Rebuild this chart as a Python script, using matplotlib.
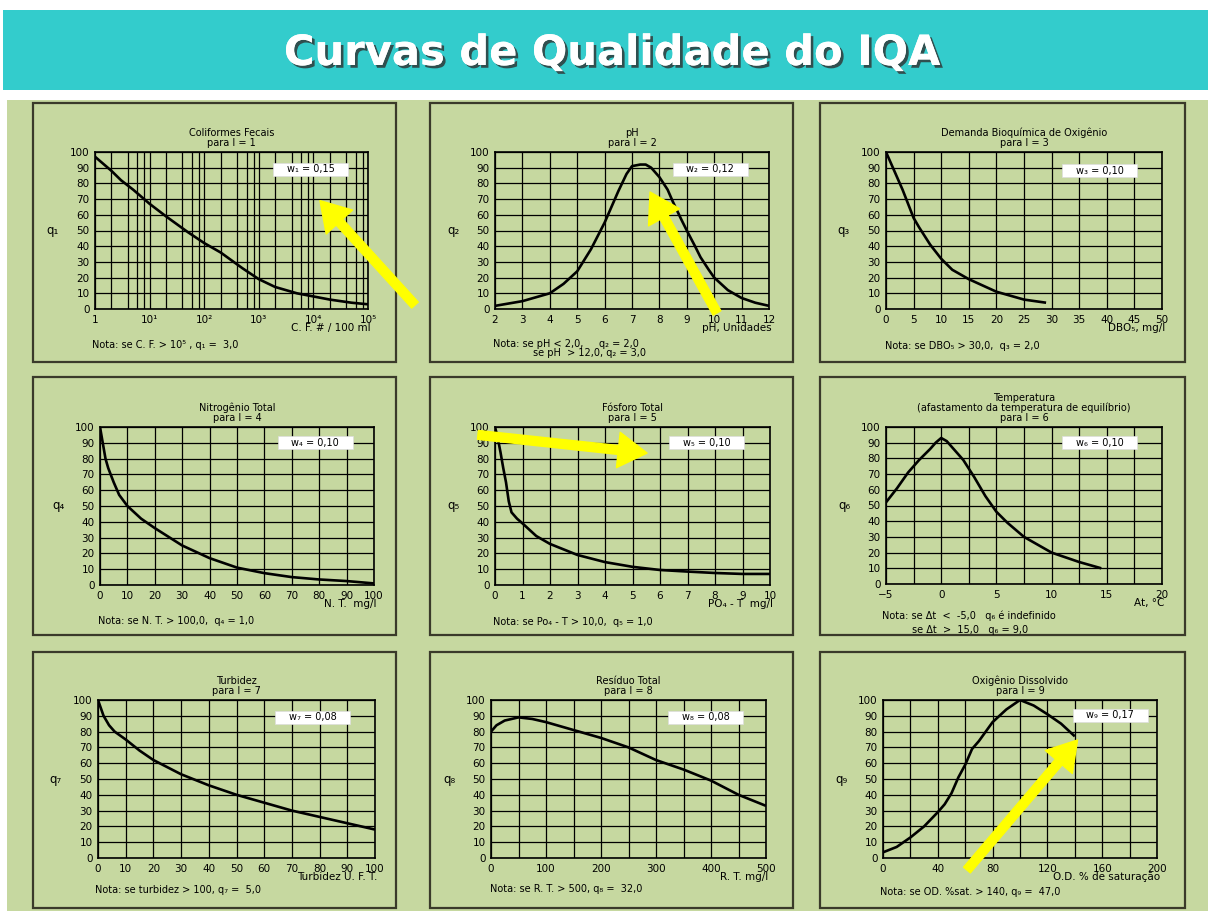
import numpy as np
import matplotlib
matplotlib.use("Agg")
import matplotlib.pyplot as plt
import matplotlib.patheffects as pe
from matplotlib.patches import Rectangle
from matplotlib.ticker import LogLocator, MultipleLocator, NullFormatter, FixedLocator

W, H = 1208, 911
TEAL = "#33CCCC"
GREEN = "#C6D8A0"
FRAME = "#3A3A2A"
YELLOW = "#FFFF00"

# ---- data ----
cf_x = [1, 2, 3, 5, 10, 20, 50, 100, 200, 500, 1e3, 2e3, 5e3, 1e4, 2e4, 5e4, 1e5]
cf_q = [97, 88, 82, 76, 67, 59, 49, 42, 36, 26, 19, 14, 10, 8, 6, 4, 3]

ph_x = [2, 3, 4, 4.5, 5, 5.5, 6, 6.5, 6.8, 7, 7.3, 7.5, 7.7, 8, 8.3, 8.5, 8.8, 9, 9.3,
        9.5, 9.8, 10, 10.5, 11, 11.5, 12]
ph_q = [2, 5, 10, 16, 24, 38, 55, 75, 86, 91, 92, 92, 90, 84, 76, 68, 57, 50, 40,
        33, 25, 20, 12, 7, 4, 2]

dbo_x = [0, 1, 2, 3, 4, 5, 6, 8, 10, 12, 15, 20, 25, 29]
dbo_q = [100, 92, 84, 76, 67, 58, 52, 41, 32, 25, 19, 11, 6, 4]

nt_x = [0, 0.5, 1, 2, 3, 5, 7, 10, 15, 20, 30, 40, 50, 60, 70, 80, 90, 100]
nt_q = [100, 95, 90, 80, 74, 65, 57, 50, 42, 36, 25, 17, 11, 7.5, 5, 3.5, 2.5, 1]

p_x = [0, 0.1, 0.2, 0.3, 0.4, 0.5, 0.6, 0.8, 1, 1.5, 2, 3, 4, 5, 6, 7, 8, 9, 10]
p_q = [100, 93, 84, 74, 65, 53, 46, 42, 39, 31, 26, 19, 14.5, 11.5, 9.5, 8.5, 7.6, 7, 7]

tmp_x = [-5, -4, -3, -2, -1, -0.5, 0, 0.5, 1, 2, 3, 4, 5, 6, 7.5, 10, 12.5, 14.5]
tmp_q = [52, 61, 71, 79, 86, 90, 93, 91, 87, 79, 68, 56, 46, 39, 30, 20, 14, 10]

tu_x = [0, 1, 2, 4, 6, 10, 15, 20, 30, 40, 50, 60, 70, 80, 90, 100]
tu_q = [100, 95, 90, 84, 80, 75, 68, 62, 53, 46, 40, 35, 30, 26, 22, 18]

rt_x = [0, 10, 25, 50, 75, 100, 150, 200, 250, 300, 350, 400, 450, 500]
rt_q = [80, 84, 87, 89, 88, 86, 81, 76, 70, 62, 56, 49, 40, 33]

od_x = [0, 10, 20, 30, 40, 45, 50, 55, 60, 65, 70, 80, 90, 100, 110, 120, 130, 140]
od_q = [3.6, 7, 13, 20, 29, 34, 41, 51, 59, 69, 74, 86, 94, 100, 96.5, 91, 85, 77]

# ---- panel texts ----
titles = [
    "Coliformes Fecais\npara I = 1",
    "pH\npara I = 2",
    "Demanda Bioquímica de Oxigênio\npara I = 3",
    "Nitrogênio Total\npara I = 4",
    "Fósforo Total\npara I = 5",
    "Temperatura\n(afastamento da temperatura de equilíbrio)\npara I = 6",
    "Turbidez\npara I = 7",
    "Resíduo Total\npara I = 8",
    "Oxigênio Dissolvido\npara I = 9",
]
xlabels = ["C. F. # / 100 ml", "pH, Unidades", "DBO₅, mg/l", "N. T.  mg/l",
           "PO₄ - T  mg/l", "At, °C", "Turbidez U. F. T.", "R. T. mg/l",
           "O.D. % de saturação"]
weights = ["w₁ = 0,15", "w₂ = 0,12", "w₃ = 0,10", "w₄ = 0,10", "w₅ = 0,10",
           "w₆ = 0,10", "w₇ = 0,08", "w₈ = 0,08", "w₉ = 0,17"]
notes = [
    ["Nota: se C. F. > 10⁵ , q₁ =  3,0"],
    ["Nota: se pH < 2,0,     q₂ = 2,0", "se pH  > 12,0, q₂ = 3,0"],
    ["Nota: se DBO₅ > 30,0,  q₃ = 2,0"],
    ["Nota: se N. T. > 100,0,  q₄ = 1,0"],
    ["Nota: se Po₄ - T > 10,0,  q₅ = 1,0"],
    ["Nota: se Δt  <  -5,0   q₆ é indefinido", "se Δt  >  15,0   q₆ = 9,0"],
    ["Nota: se turbidez > 100, q₇ =  5,0"],
    ["Nota: se R. T. > 500, q₈ =  32,0"],
    ["Nota: se OD. %sat. > 140, q₉ =  47,0"],
]
series = [(cf_x, cf_q), (ph_x, ph_q), (dbo_x, dbo_q), (nt_x, nt_q), (p_x, p_q),
          (tmp_x, tmp_q), (tu_x, tu_q), (rt_x, rt_q), (od_x, od_q)]

# ---- layout (pixels) ----
frames = [(33, 103, 396, 362), (430, 103, 793, 362), (820, 103, 1185, 362),
          (33, 377, 396, 635), (430, 377, 793, 635), (820, 377, 1185, 635),
          (33, 652, 396, 908), (430, 652, 793, 908), (820, 652, 1185, 908)]
axrects = [(95, 152, 368, 309), (495, 152, 769, 309), (886, 152, 1162, 309),
           (100, 427, 374, 585), (495, 427, 770, 585), (886, 427, 1162, 584),
           (98, 700, 375, 858), (491, 700, 766, 858), (883, 700, 1157, 858)]
xlims = [(1, 1e5), (2, 12), (0, 50), (0, 100), (0, 10), (-5, 20), (0, 100), (0, 500), (0, 200)]
xmajor = [None, 1, 5, 10, 1, 5, 10, 100, 40]
xminor = [None, None, None, None, None, 2.5, None, 50, 20]
wpos = [(0.79, 0.89), (0.785, 0.89), (0.775, 0.88), (0.785, 0.9), (0.77, 0.9),
        (0.775, 0.9), (0.776, 0.89), (0.78, 0.89), (0.83, 0.905)]
note_xy = [[(92, 345)], [(493, 344), (533, 353)], [(885, 346)],
           [(98, 621)], [(493, 622)], [(882, 616), (912, 630)],
           [(95, 890)], [(490, 889)], [(880, 892)]]
# arrows: (panel, tail, head) in data coordinates
arrows = [(0, (10 ** 5.86, 2.5), (10 ** 4.12, 69)),
          (1, (10.1, -2.5), (7.66, 74.5)),
          (4, (-0.62, 95), (5.53, 83.5)),
          (8, (61.3, -7.6), (142, 74.7))]


def fx(x):
    return x / W


def fy(y):
    return 1 - y / H


fig = plt.figure(figsize=(W / 100, H / 100), dpi=100)
fig.patch.set_facecolor("white")
fig.patches.append(Rectangle((fx(3), fy(90)), fx(1208 - 3), 80 / H, transform=fig.transFigure,
                             facecolor=TEAL, edgecolor="none", zorder=-10))
fig.patches.append(Rectangle((fx(7), 0), fx(1208 - 7), fy(100), transform=fig.transFigure,
                             facecolor=GREEN, edgecolor="none", zorder=-10))
fig.text(fx(612), fy(53), "Curvas de Qualidade do IQA", ha="center", va="center",
         color="white", fontsize=30, fontweight="bold",
         path_effects=[pe.withSimplePatchShadow(offset=(2, -2), shadow_rgbFace="#303030", alpha=0.8),
                       pe.Normal()])

for (l, t, r, b) in frames:
    fig.patches.append(Rectangle((fx(l), fy(b)), (r - l) / W, (b - t) / H, transform=fig.transFigure,
                                 facecolor="none", edgecolor=FRAME, lw=1.6, zorder=-5))

axes = []
for i in range(9):
    l, t, r, b = axrects[i]
    ax = fig.add_axes([fx(l), fy(b), (r - l) / W, (b - t) / H])
    ax.set_facecolor("none")
    xs, qs = series[i]
    ax.plot(xs, qs, color="black", lw=1.9, solid_capstyle="butt", solid_joinstyle="round", zorder=3)
    ax.set_ylim(0, 100)
    ax.set_xlim(*xlims[i])
    ax.yaxis.set_major_locator(MultipleLocator(10))
    if i == 0:
        ax.set_xscale("log")
        ax.xaxis.set_major_locator(FixedLocator([1, 10, 1e2, 1e3, 1e4, 1e5]))
        ax.set_xticklabels(["1", "10¹", "10²", "10³", "10⁴", "10⁵"])
        ax.xaxis.set_minor_locator(LogLocator(base=10, subs=[2, 4, 6, 8]))
        ax.xaxis.set_minor_formatter(NullFormatter())
    else:
        ax.xaxis.set_major_locator(MultipleLocator(xmajor[i]))
        if xminor[i]:
            ax.xaxis.set_minor_locator(MultipleLocator(xminor[i]))
    ax.grid(which="both", color="black", lw=0.9)
    ax.tick_params(which="both", length=0, labelsize=7.5, pad=4)
    for s in ax.spines.values():
        s.set_linewidth(1.2)
        s.set_color("black")
    ax.set_title(titles[i], fontsize=7, pad=4, linespacing=1.0)
    ax.text(-42 / (r - l), 0.5, "q" + "₁₂₃₄₅₆₇₈₉"[i], transform=ax.transAxes,
            ha="center", va="center", fontsize=8.5)
    ax.text(1.01, -19 / (b - t), xlabels[i], transform=ax.transAxes,
            ha="right", va="center", fontsize=7.5)
    wx, wy = wpos[i]
    bw, bh = 75 / (r - l), 13 / (b - t)
    ax.add_patch(Rectangle((wx - bw / 2, wy - bh / 2), bw, bh, transform=ax.transAxes,
                           facecolor="white", edgecolor="#dddddd", lw=0.5, zorder=5))
    ax.text(wx, wy, weights[i], transform=ax.transAxes, ha="center", va="center",
            fontsize=7, zorder=6)
    for (nx, ny), line in zip(note_xy[i], notes[i]):
        fig.text(fx(nx), fy(ny), line, ha="left", va="center", fontsize=7)
    axes.append(ax)

for k, tail, head in arrows:
    axes[k].annotate("", xy=head, xytext=tail, annotation_clip=False, zorder=10,
                     arrowprops=dict(arrowstyle="simple,head_length=1.3,head_width=1.6,tail_width=0.4",
                                     color=YELLOW, mutation_scale=16, shrinkA=0, shrinkB=0))

fig.savefig("out.png", dpi=100, facecolor=fig.get_facecolor())
